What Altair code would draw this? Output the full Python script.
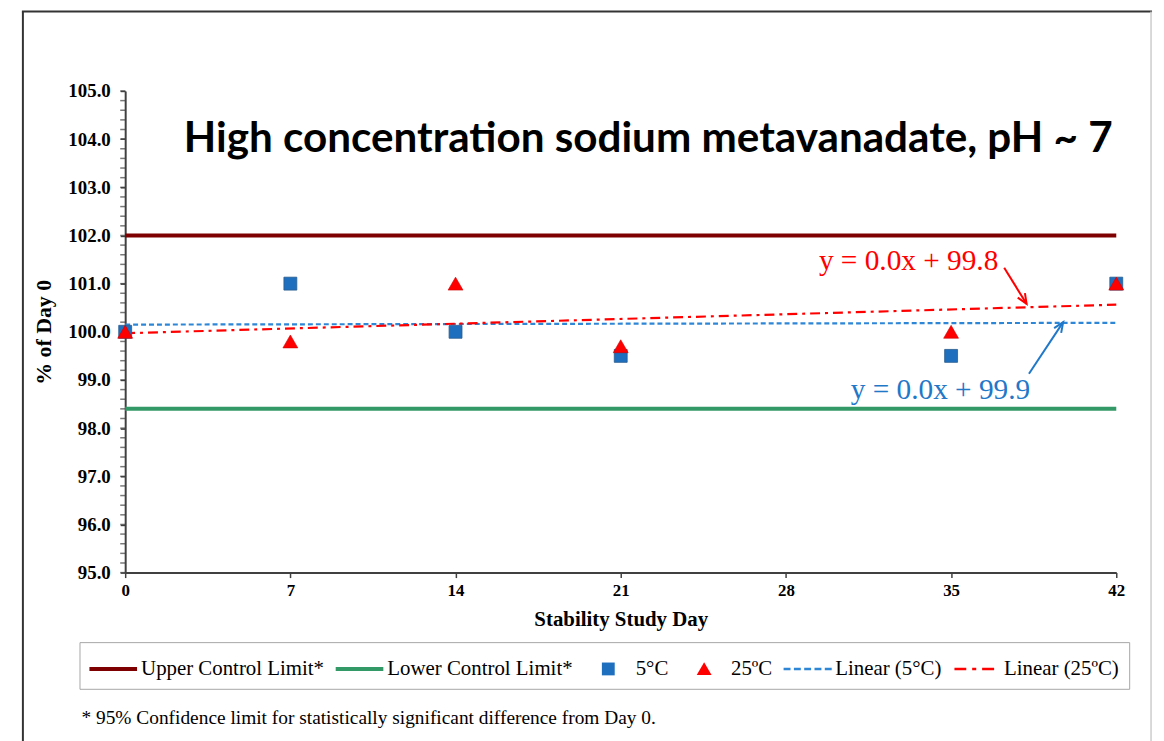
import math
import altair as alt
import pandas as pd

# ---------------- data ----------------
days = [0, 7, 14, 21, 35, 42]
pct_5c = [100.0, 101.0, 100.0, 99.5, 99.5, 101.0]
pct_25c = [100.0, 99.8, 101.0, 99.7, 100.0, 101.0]

limit_names = ["Upper Control Limit*", "Lower Control Limit*"]
limit_values = [102.0, 98.4]
limit_colors = ["#7F0000", "#339966"]
day_min, day_max = 0, 42

series_names = ["Upper Control Limit*", "Lower Control Limit*", "5°C", "25ºC",
                "Linear (5°C)", "Linear (25ºC)"]
series_colors = ["#7F0000", "#339966", "#1F6FBF", "#FF0000", "#2E86D6", "#FF0000"]

x_ticks = [0, 7, 14, 21, 28, 35, 42]
y_major = [95, 96, 97, 98, 99, 100, 101, 102, 103, 104, 105]
y_minor = [round(95 + 0.2 * i, 1) for i in range(51)]

title_text = "High concentration sodium metavanadate, pH ~ 7"
footnote_text = "* 95% Confidence limit for statistically significant difference from Day 0."

eq_labels = ["y = 0.0x + 99.8", "y = 0.0x + 99.9"]
eq_colors = ["#FF0000", "#1F78C8"]
eq_x = [33.2, 34.55]
eq_y = [101.47, 98.79]
arrow_x1 = [37.25, 38.3]
arrow_y1 = [101.33, 99.13]
arrow_x2 = [38.2, 39.75]
arrow_y2 = [100.58, 100.2]

# ---------------- geometry ----------------
W, H = 998, 485
PX_PER_DAY = W / (day_max - day_min)
PX_PER_PCT = H / 10.0


def rect(x0, x1, h):
    return f"M{x0},{-h}H{x1}V{h}H{x0}Z"


solid_path = rect(-1, 1.82, 0.12)
dash_parts = []
x = -1.0
while x < 1.88:
    dash_parts.append(rect(round(x, 3), round(min(x + 0.41, 1.88), 3), 0.075))
    x += 0.61
dashed_path = "".join(dash_parts)
dashdot_path = rect(-0.88, -0.18, 0.075) + rect(0.17, 0.41, 0.075) + rect(0.76, 1.47, 0.075)
legend_square = "M0.06,-0.38H0.82V0.38H0.06Z"
legend_triangle = "M0.47,-0.4L0.91,0.36H0.03Z"
series_shapes = [solid_path, solid_path, legend_square, legend_triangle, dashed_path,
                 dashdot_path]

# ---------------- tables ----------------
points = pd.DataFrame({
    "series": ["5°C"] * len(days) + ["25ºC"] * len(days),
    "day": days + days,
    "pct": pct_5c + pct_25c,
})
limits = pd.DataFrame({"name": limit_names, "y": limit_values,
                       "x0": [day_min] * 2, "x1": [day_max] * 2})
eqs = pd.DataFrame({"label": eq_labels, "x": eq_x, "y": eq_y})
arrows = pd.DataFrame({"x1": arrow_x1, "y1": arrow_y1, "x2": arrow_x2, "y2": arrow_y2})
arrows["angle"] = [
    (math.degrees(math.atan2((b - a) * PX_PER_DAY, (d - c) * PX_PER_PCT)) + 360) % 360
    for a, b, c, d in zip(arrows.x1, arrows.x2, arrows.y1, arrows.y2)
]
minor = pd.DataFrame({"v": y_minor})
legend_df = pd.DataFrame({"series": series_names})

SERIF = "Liberation Serif"
xscale = alt.Scale(domain=[day_min, day_max], nice=False, zero=False)
yscale = alt.Scale(domain=[95, 105], nice=False, zero=False)

x_axis = alt.Axis(values=x_ticks, title="Stability Study Day", grid=False,
                  labelFont=SERIF, labelFontWeight="bold", labelFontSize=17,
                  labelColor="black", titleFont=SERIF, titleFontWeight="bold",
                  titleFontSize=21, titleColor="black", tickSize=5, tickColor="#404040",
                  tickWidth=1.5, domainColor="#404040", domainWidth=2,
                  labelPadding=5, titlePadding=10, labelFlush=False)
y_axis = alt.Axis(values=y_major, format=".1f", title="% of Day 0", grid=False,
                  labelOverlap=False, labelFont=SERIF, labelFontWeight="bold",
                  labelFontSize=19, labelColor="black", titleFont=SERIF,
                  titleFontWeight="bold", titleFontSize=22, titleColor="black",
                  tickSize=5, tickColor="#404040", tickWidth=1.5, domainColor="#404040",
                  domainWidth=2, labelPadding=10, titlePadding=12, labelFlush=False)

legend = alt.Legend(title=None, orient="none", legendX=-46, legendY=555,
                    direction="horizontal", columns=6, columnPadding=11,
                    labelFont=SERIF, labelFontSize=21, labelColor="black",
                    labelLimit=400, labelOffset=18, symbolSize=1156,
                    symbolStrokeWidth=0, symbolOpacity=1, strokeColor="#A6A6A6",
                    padding=10, fillColor="white")

X = lambda f: alt.X(f, scale=xscale, axis=x_axis)
Y = lambda f: alt.Y(f, scale=yscale, axis=y_axis)

# ---------------- layers ----------------
limit_layers = [
    alt.Chart(limits).transform_filter(alt.datum.name == nm).mark_rule(
        strokeWidth=4, color=col).encode(x=X("x0:Q"), x2="x1:Q", y=Y("y:Q"))
    for nm, col in zip(limit_names, limit_colors)
]

minor_layer = alt.Chart(minor).mark_tick(orient="horizontal", size=5, thickness=1.5,
                                          color="#404040").encode(
    y=Y("v:Q"), x=alt.value(-2.5))

base = alt.Chart(points)
reg5 = base.transform_filter(alt.datum.series == "5°C").transform_regression(
    "day", "pct", extent=[day_min, day_max]
).mark_line(color="#2E86D6", strokeDash=[5, 3], strokeWidth=2.2).encode(
    x=X("day:Q"), y=Y("pct:Q"))
reg25 = base.transform_filter(alt.datum.series == "25ºC").transform_regression(
    "day", "pct", extent=[day_min, day_max]
).mark_line(color="#FF0000", strokeDash=[10, 5, 3, 5], strokeWidth=2.2).encode(
    x=X("day:Q"), y=Y("pct:Q"))

squares = base.transform_filter(alt.datum.series == "5°C").mark_point(
    shape="square", filled=True, size=169, opacity=1, color="#1F6FBF",
    stroke="#2A5C8F", strokeWidth=0.8).encode(x=X("day:Q"), y=Y("pct:Q"))
triangles = base.transform_filter(alt.datum.series == "25ºC").mark_point(
    shape="triangle-up", filled=True, size=225, opacity=1, color="#FF0000",
    stroke="#D00000", strokeWidth=0.6).encode(x=X("day:Q"), y=Y("pct:Q"))

legend_layer = alt.Chart(legend_df).mark_point(filled=True, opacity=0).encode(
    x=alt.value(0), y=alt.value(0),
    color=alt.Color("series:N", scale=alt.Scale(domain=series_names, range=series_colors),
                    legend=legend),
    shape=alt.Shape("series:N", scale=alt.Scale(domain=series_names, range=series_shapes),
                    legend=legend),
)

eq_layers = []
for lbl, col in zip(eq_labels, eq_colors):
    eq_layers.append(alt.Chart(eqs).transform_filter(alt.datum.label == lbl).mark_text(
        font=SERIF, fontSize=29.5, align="center", baseline="middle", color=col
    ).encode(x=X("x:Q"), y=Y("y:Q"), text="label:N"))
    sub = arrows[eqs.label == lbl]
    eq_layers.append(alt.Chart(sub).mark_rule(strokeWidth=2, color=col).encode(
        x=X("x1:Q"), y=Y("y1:Q"), x2="x2:Q", y2="y2:Q"))
    eq_layers.append(alt.Chart(sub).mark_point(
        shape="M-0.55,1.3L0,0L0.55,1.3", filled=False, size=240, strokeWidth=2,
        opacity=1, color=col
    ).encode(x=X("x2:Q"), y=Y("y2:Q"), angle=alt.Angle("angle:Q", scale=None)))

title_layer = alt.Chart(pd.DataFrame({"t": [title_text]})).mark_text(
    font="Lato", fontWeight="bold", fontSize=42.5, align="left", baseline="middle",
    color="black").encode(text="t:N", x=alt.value(59), y=alt.value(48))
foot_layer = alt.Chart(pd.DataFrame({"t": [footnote_text]})).mark_text(
    font=SERIF, fontSize=19.5, align="left", baseline="middle", color="black"
).encode(text="t:N", x=alt.value(-44), y=alt.value(631))

frame = pd.DataFrame({"k": ["left", "top", "right"]})
frame_left = alt.Chart(frame.iloc[[0]]).mark_rule(color="#333333", strokeWidth=2).encode(
    x=alt.value(-103), y=alt.value(-80), y2=alt.value(660))
frame_top = alt.Chart(frame.iloc[[1]]).mark_rule(color="#333333", strokeWidth=2).encode(
    x=alt.value(-104), x2=alt.value(1034), y=alt.value(-80))
frame_right = alt.Chart(frame.iloc[[2]]).mark_rule(color="#CCCCCC", strokeWidth=1.5).encode(
    x=alt.value(1033), y=alt.value(-80), y2=alt.value(660))

chart = alt.layer(
    *limit_layers, minor_layer, reg5, reg25, squares, triangles, legend_layer,
    *eq_layers, title_layer, foot_layer, frame_left, frame_top, frame_right,
).properties(
    width=W, height=H,
    padding={"left": 118, "top": 81, "right": 40, "bottom": 167},
    autosize=alt.AutoSizeParams(type="none"),
    background="white",
).configure_view(stroke=None)

chart.save("out.html", embed_options={"renderer": "svg", "actions": False})
